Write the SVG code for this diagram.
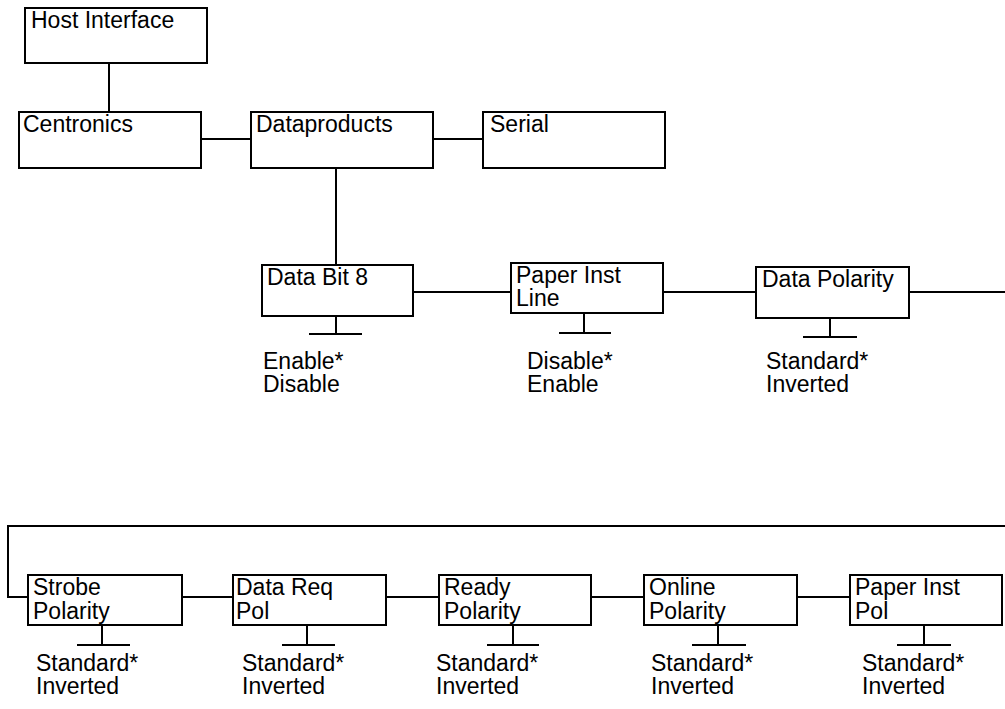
<svg xmlns="http://www.w3.org/2000/svg" width="1005" height="709" viewBox="0 0 1005 709">
<style>
  rect.box { fill: #fff; stroke: #000; stroke-width: 2; }
  .ln { fill: none; stroke: #000; stroke-width: 2; }
  text { font-family: "Liberation Sans", Arial, sans-serif; font-size: 23px; fill: #000; }
</style>
<rect width="1005" height="709" fill="#fff"/>
<g id="connectors">
  <line class="ln" x1="109" y1="63" x2="109" y2="112"/>
  <line class="ln" x1="201" y1="139" x2="251" y2="139"/>
  <line class="ln" x1="433" y1="139" x2="483" y2="139"/>
  <line class="ln" x1="336" y1="168" x2="336" y2="265"/>
  <line class="ln" x1="413" y1="292" x2="511" y2="292"/>
  <line class="ln" x1="663" y1="292" x2="756" y2="292"/>
  <polyline class="ln" points="909,292 1006,292"/>
  <polyline class="ln" points="1006,526 8,526 8,597 28,597"/>
  <line class="ln" x1="182" y1="597" x2="233" y2="597"/>
  <line class="ln" x1="386" y1="597" x2="439" y2="597"/>
  <line class="ln" x1="591" y1="597" x2="644" y2="597"/>
  <line class="ln" x1="797" y1="597" x2="850" y2="597"/>
</g>
<g id="host-interface">
  <rect class="box" x="25" y="8" width="182" height="55"/>
  <text x="31" y="28">Host Interface</text>
</g>
<g id="centronics">
  <rect class="box" x="19" y="112" width="182" height="56"/>
  <text x="23" y="132">Centronics</text>
</g>
<g id="dataproducts">
  <rect class="box" x="251" y="112" width="182" height="56"/>
  <text x="256" y="132">Dataproducts</text>
</g>
<g id="serial">
  <rect class="box" x="483" y="112" width="182" height="56"/>
  <text x="490" y="132">Serial</text>
</g>
<g id="data-bit-8">
  <rect class="box" x="262" y="265" width="151" height="51"/>
  <text x="267" y="285">Data Bit 8</text>
  <path class="ln" d="M336,316 V334 M309,334 H362"/>
  <text x="263" y="369">Enable*</text>
  <text x="263" y="392">Disable</text>
</g>
<g id="paper-inst-line">
  <rect class="box" x="511" y="263" width="152" height="50"/>
  <text x="516" y="283">Paper Inst</text>
  <text x="516" y="306">Line</text>
  <path class="ln" d="M584,313 V333 M559,333 H611"/>
  <text x="527" y="369">Disable*</text>
  <text x="527" y="392">Enable</text>
</g>
<g id="data-polarity">
  <rect class="box" x="756" y="267" width="153" height="51"/>
  <text x="762" y="287">Data Polarity</text>
  <path class="ln" d="M830,318 V337 M803,337 H857"/>
  <text x="766" y="369">Standard*</text>
  <text x="766" y="392">Inverted</text>
</g>
<g id="strobe-polarity">
  <rect class="box" x="28" y="575" width="154" height="50"/>
  <text x="33" y="595">Strobe</text>
  <text x="33" y="619">Polarity</text>
  <path class="ln" d="M102,625 V645 M77,645 H130"/>
  <text x="36" y="671">Standard*</text>
  <text x="36" y="694">Inverted</text>
</g>
<g id="data-req-pol">
  <rect class="box" x="233" y="575" width="153" height="50"/>
  <text x="236" y="595">Data Req</text>
  <text x="236" y="619">Pol</text>
  <path class="ln" d="M307,625 V645 M282,645 H335"/>
  <text x="242" y="671">Standard*</text>
  <text x="242" y="694">Inverted</text>
</g>
<g id="ready-polarity">
  <rect class="box" x="439" y="575" width="152" height="50"/>
  <text x="444" y="595">Ready</text>
  <text x="444" y="619">Polarity</text>
  <path class="ln" d="M513,625 V645 M487,645 H539"/>
  <text x="436" y="671">Standard*</text>
  <text x="436" y="694">Inverted</text>
</g>
<g id="online-polarity">
  <rect class="box" x="644" y="575" width="153" height="50"/>
  <text x="649" y="595">Online</text>
  <text x="649" y="619">Polarity</text>
  <path class="ln" d="M718,625 V645 M692,645 H746"/>
  <text x="651" y="671">Standard*</text>
  <text x="651" y="694">Inverted</text>
</g>
<g id="paper-inst-pol">
  <rect class="box" x="850" y="575" width="152" height="50"/>
  <text x="855" y="595">Paper Inst</text>
  <text x="855" y="619">Pol</text>
  <path class="ln" d="M924,625 V645 M897,645 H951"/>
  <text x="862" y="671">Standard*</text>
  <text x="862" y="694">Inverted</text>
</g>
</svg>
